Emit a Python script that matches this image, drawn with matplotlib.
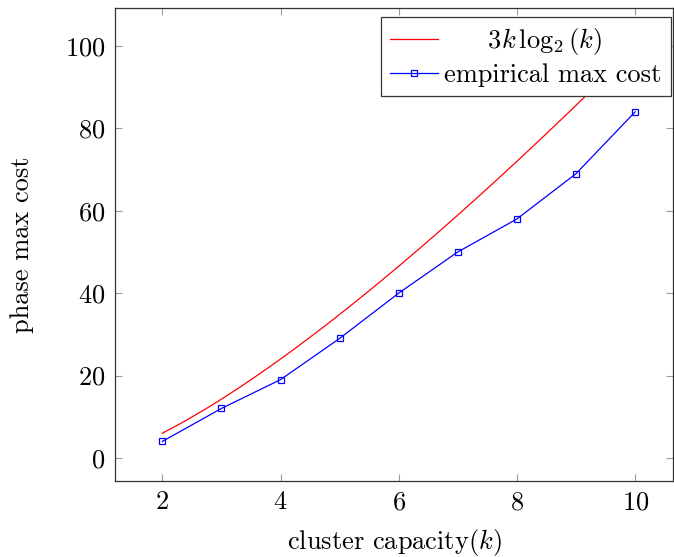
import numpy as np
import matplotlib
matplotlib.use("Agg")
import matplotlib.pyplot as plt

plt.rcParams["font.family"] = "cmr10"
plt.rcParams["mathtext.fontset"] = "cm"
plt.rcParams["axes.unicode_minus"] = False
plt.rcParams["axes.formatter.use_mathtext"] = True

# empirical measurements
capacity = [2, 3, 4, 5, 6, 7, 8, 9, 10]
max_cost = [4, 12, 19, 29, 40, 50, 58, 69, 84]

x_ticks = [2, 4, 6, 8, 10]
y_ticks = [0, 20, 40, 60, 80, 100]

FS = 19

fig = plt.figure(figsize=(6.74, 5.57), dpi=100)
ax = fig.add_axes([115 / 674, 76 / 557, 558 / 674, 473 / 557])

k = np.linspace(2, 10, 200)
ax.plot(k, 3 * k * np.log2(k), color="red", lw=0.9,
        label="     $3k\\,\\log_2(k)$")
ax.plot(capacity, max_cost, color="blue", lw=0.9, marker="s",
        markersize=4.2, markerfacecolor="none", markeredgewidth=0.9,
        label="empirical max cost")

ax.set_xlim(1.2, 10.64)
ax.set_ylim(-5.6, 109.2)
ax.set_xticks(x_ticks)
ax.set_yticks(y_ticks)
ax.tick_params(direction="in", length=5, width=0.8, color="#999999",
               top=True, right=True, labelsize=FS, pad=7)
for s in ax.spines.values():
    s.set_linewidth(0.9)
    s.set_color("#333333")

ax.set_xlabel("cluster capacity$(k)$", fontsize=FS, labelpad=9)
ax.set_ylabel("phase max cost", fontsize=FS, labelpad=22)

leg = ax.legend(loc="upper right", bbox_to_anchor=(0.9964, 0.981),
                fontsize=FS, frameon=True, fancybox=False,
                framealpha=1, edgecolor="#333333", handlelength=1.8,
                handletextpad=0.25, borderpad=0.35, labelspacing=0.22,
                borderaxespad=0)
leg.get_frame().set_linewidth(0.9)

fig.savefig("out.png", dpi=100)
